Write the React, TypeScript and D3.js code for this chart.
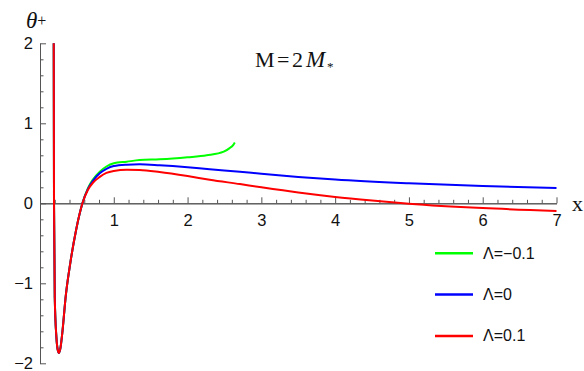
import React, { useEffect, useRef } from "react";
import * as d3 from "d3";

// shared steep branch near the singularity (all three curves coincide there)
const nearX = [0.186, 0.19, 0.2, 0.222, 0.24, 0.258, 0.275, 0.3, 0.35, 0.41, 0.49, 0.575];
const nearTheta = [2, 0, -1.17, -1.67, -1.83, -1.87, -1.82, -1.64, -1.15, -0.75, -0.33, 0];

const greenX = [0.65, 0.72, 0.81, 0.9, 1.0, 1.175, 1.35, 1.62, 1.8, 2.0, 2.26, 2.49, 2.57, 2.62, 2.64];
const greenTheta = [0.19, 0.3, 0.395, 0.46, 0.5, 0.52, 0.54, 0.55, 0.56, 0.575, 0.6, 0.645, 0.69, 0.73, 0.76];

const blueX = [0.65, 0.72, 0.81, 0.9, 1.0, 1.175, 1.35, 1.62, 2.0, 2.3, 2.71, 3.0, 3.5, 4, 5, 6, 7];
const blueTheta = [0.18, 0.285, 0.375, 0.43, 0.465, 0.482, 0.487, 0.475, 0.45, 0.425, 0.395, 0.37, 0.33, 0.297, 0.25, 0.215, 0.19];

const redX = [0.65, 0.72, 0.81, 0.9, 1.0, 1.175, 1.35, 1.62, 2.0, 2.3, 2.71, 3.0, 3.5, 4, 4.5, 5, 6, 7];
const redTheta = [0.17, 0.26, 0.33, 0.38, 0.405, 0.42, 0.416, 0.39, 0.34, 0.295, 0.24, 0.2, 0.135, 0.08, 0.035, -0.005, -0.06, -0.095];

const seriesNames = ["Λ=−0.1", "Λ=0", "Λ=0.1"];
const seriesColors = ["#00ff00", "#0000ff", "#ff0000"];

const xMajor = [1, 2, 3, 4, 5, 6, 7];
const yMajor = [-2, -1, 0, 1, 2];

const App = () => {
  const svgRef = useRef(null);

  useEffect(() => {
    const w = 584;
    const h = 371;
    const svg = d3.select(svgRef.current).attr("width", w).attr("height", h);
    svg.selectAll("*").remove();

    const xScale = d3.scaleLinear().domain([0, 7]).range([40, 556.5]);
    const yScale = d3.scaleLinear().domain([-2, 2]).range([363.3, 43.3]);

    const axisColor = "#555";
    const font = "'Liberation Sans', Arial, sans-serif";

    // minor ticks
    const xMinor = d3.range(0.2, 7, 0.2).filter((v) => Math.abs(v - Math.round(v)) > 0.01);
    const yMinor = d3.range(-2, 2, 0.2).filter((v) => Math.abs(v - Math.round(v)) > 0.01);

    const xAxisMinor = d3.axisBottom(xScale).tickValues(xMinor).tickSizeInner(-3.5).tickSizeOuter(0).tickFormat(() => "");
    const xAxis = d3.axisBottom(xScale).tickValues(xMajor).tickSizeInner(-6).tickSizeOuter(0).tickPadding(11).tickFormat(d3.format("d"));
    const yAxisMinor = d3.axisLeft(yScale).tickValues(yMinor).tickSizeInner(-3.5).tickSizeOuter(0).tickFormat(() => "");
    const yAxis = d3.axisLeft(yScale).tickValues(yMajor).tickSizeInner(-6).tickSizeOuter(0).tickPadding(7).tickFormat(d3.format("d"));

    const gx = svg.append("g").attr("transform", `translate(0, ${yScale(0)})`);
    gx.append("g").call(xAxisMinor);
    gx.append("g").call(xAxis);
    const gy = svg.append("g").attr("transform", `translate(${xScale(0)}, 0)`);
    gy.append("g").call(yAxisMinor);
    gy.append("g").call(yAxis);

    svg.selectAll(".domain").attr("stroke", axisColor).attr("stroke-width", 1);
    svg.selectAll(".tick line").attr("stroke", axisColor).attr("stroke-width", 1);
    svg.selectAll(".tick text").attr("fill", "#111").attr("font-size", "16.5px").attr("font-family", font);

    // curves
    const line = d3
      .line()
      .x((d) => xScale(d[0]))
      .y((d) => yScale(d[1]))
      .curve(d3.curveMonotoneX);

    const toPoints = (xs, ys) => xs.map((x, i) => [x, ys[i]]);
    const near = toPoints(nearX, nearTheta);
    const curves = [
      near.concat(toPoints(greenX, greenTheta)),
      near.concat(toPoints(blueX, blueTheta)),
      near.concat(toPoints(redX, redTheta)),
    ];

    svg
      .append("g")
      .selectAll("path")
      .data(curves)
      .enter()
      .append("path")
      .attr("d", (d) => line(d))
      .attr("fill", "none")
      .attr("stroke", (d, i) => seriesColors[i])
      .attr("stroke-width", 2)
      .attr("stroke-linejoin", "round");

    // legend
    const legend = svg
      .selectAll(".legend")
      .data(seriesNames)
      .enter()
      .append("g")
      .attr("class", "legend")
      .attr("transform", (d, i) => `translate(435, ${253.3 + i * 41.3})`);
    legend
      .append("line")
      .attr("x1", 0)
      .attr("x2", 38)
      .attr("stroke", (d, i) => seriesColors[i])
      .attr("stroke-width", 2.5);
    legend
      .append("text")
      .attr("x", 48)
      .attr("y", 5.5)
      .attr("font-size", "16px")
      .attr("font-family", font)
      .attr("fill", "#111")
      .text((d) => d);

    // labels
    const serif = "'Liberation Serif', 'Times New Roman', serif";
    const title = svg
      .append("text")
      .attr("y", 66.7)
      .attr("font-family", serif)
      .attr("font-size", "22px")
      .attr("fill", "#111");
    title.append("tspan").attr("x", 255).text("M");
    title.append("tspan").attr("x", 277).text("=");
    title.append("tspan").attr("x", 292).text("2");
    title.append("tspan").attr("x", 306).attr("font-style", "italic").attr("font-size", "23px").text("M");
    title.append("tspan").attr("x", 327).attr("font-size", "13px").attr("dy", 4).text("*");

    const yLabel = svg
      .append("text")
      .attr("x", 26)
      .attr("y", 27.5)
      .attr("font-family", serif)
      .attr("font-size", "23px")
      .attr("fill", "#111");
    yLabel.append("tspan").attr("font-style", "italic").text("θ");
    yLabel.append("tspan").attr("font-size", "16px").attr("dy", -2).text("+");

    svg
      .append("text")
      .attr("x", 572)
      .attr("y", 211)
      .attr("font-family", serif)
      .attr("font-size", "22px")
      .attr("fill", "#111")
      .text("x");
  }, []);

  return (
    <div style={{ position: "absolute", left: 0, top: 0, background: "#fff" }}>
      <svg ref={svgRef} style={{ display: "block" }}></svg>
    </div>
  );
};

export default App;
